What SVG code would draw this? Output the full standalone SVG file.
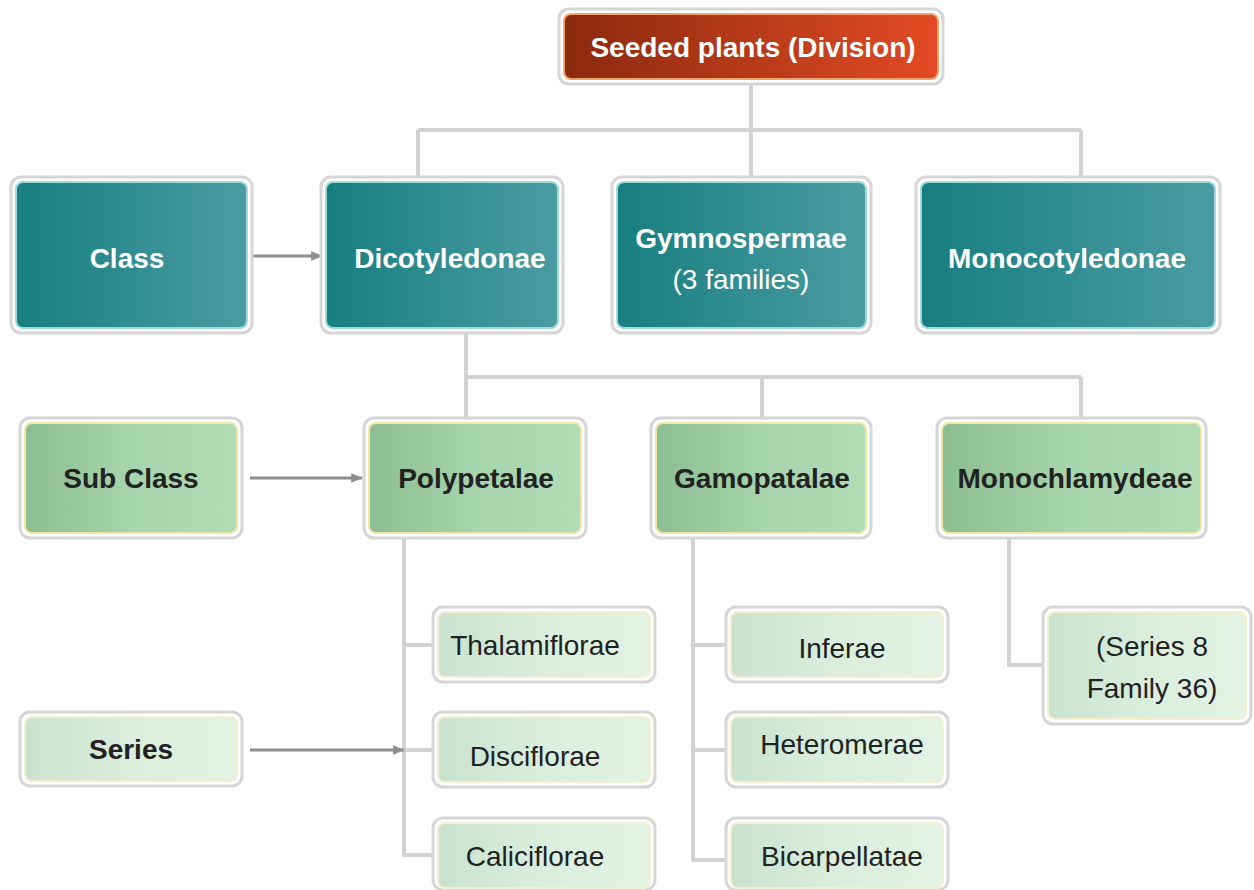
<svg xmlns="http://www.w3.org/2000/svg" width="1254" height="890" viewBox="0 0 1254 890">
<defs>
<linearGradient id="gRed" x1="0" y1="0" x2="1" y2="0"><stop offset="0" stop-color="#8a2a0e"/><stop offset="1" stop-color="#e24a24"/></linearGradient>
<linearGradient id="gTeal" x1="0" y1="0" x2="1" y2="0"><stop offset="0" stop-color="#177e7f"/><stop offset="1" stop-color="#4b9ca3"/></linearGradient>
<linearGradient id="gGreen" x1="0" y1="0" x2="1" y2="0"><stop offset="0" stop-color="#8dbd92"/><stop offset="0.5" stop-color="#a6d4ac"/><stop offset="1" stop-color="#b1dcb6"/></linearGradient>
<linearGradient id="gPale" x1="0" y1="0" x2="1" y2="0"><stop offset="0" stop-color="#c9e2cf"/><stop offset="0.5" stop-color="#dbeedd"/><stop offset="1" stop-color="#e2f2e4"/></linearGradient>
<marker id="arr" viewBox="0 0 10 10" refX="9" refY="5" markerWidth="4" markerHeight="4" orient="auto" markerUnits="strokeWidth"><path d="M0,1 L10,5 L0,9 z" fill="#8e8e8e"/></marker>
</defs>
<style>
.outer{fill:#ffffff;stroke:#d6d6d6;stroke-width:3}
.red{fill:url(#gRed);stroke:#f2a36b;stroke-width:2}
.teal{fill:url(#gTeal);stroke:#9fd9dc;stroke-width:2}
.green{fill:url(#gGreen);stroke:#efe7a8;stroke-width:2}
.pale{fill:url(#gPale);stroke:#f3efcf;stroke-width:2}
.t{font-family:"Liberation Sans Narrow","Liberation Sans",Arial,sans-serif;font-size:28px;text-anchor:middle;dominant-baseline:central}
.w{fill:#ffffff;font-weight:bold}
.wr{fill:#ffffff}
.d{fill:#222222;font-weight:bold}
.dr{fill:#222222}
.line{fill:none;stroke:#d2d2d2;stroke-width:4}
.arrow{fill:none;stroke:#8e8e8e;stroke-width:3;marker-end:url(#arr)}
</style>
<g id="connectors">
<path class="line" d="M751,84 V130 M418,130 H1081 M418,130 V178 M751,130 V178 M1081,130 V178"/>
<path class="line" d="M466,332 V377 M466,377 H1081 M466,377 V418 M762,377 V418 M1081,377 V418"/>
<path class="line" d="M404,538 V855 H433 M404,645 H433 M404,750 H433"/>
<path class="line" d="M693,538 V860 H727 M693,645 H727 M693,750 H727"/>
<path class="line" d="M1009,538 V665 H1043"/>
<path class="arrow" d="M252,256 H322"/>
<path class="arrow" d="M250,478 H362"/>
<path class="arrow" d="M250,750 H404"/>
</g>
<g id="n-seeded"><rect class="outer" x="559" y="9" width="384" height="75" rx="10"/><rect class="red" x="564" y="14" width="374" height="65" rx="7"/><text class="t w" x="753" y="47" font-size="27">Seeded plants (Division)</text></g>
<g id="n-class"><rect class="outer" x="11" y="177" width="241" height="156" rx="10"/><rect class="teal" x="16" y="182" width="231" height="146" rx="7"/><text class="t w" x="127" y="258">Class</text></g>
<g id="n-dicot"><rect class="outer" x="321" y="177" width="242" height="156" rx="10"/><rect class="teal" x="326" y="182" width="232" height="146" rx="7"/><text class="t w" x="450" y="258">Dicotyledonae</text></g>
<g id="n-gymno"><rect class="outer" x="612" y="177" width="259" height="156" rx="10"/><rect class="teal" x="617" y="182" width="249" height="146" rx="7"/><text class="t w" x="741" y="238">Gymnospermae</text><text class="t wr" x="741" y="279">(3 families)</text></g>
<g id="n-mono"><rect class="outer" x="916" y="177" width="304" height="156" rx="10"/><rect class="teal" x="921" y="182" width="294" height="146" rx="7"/><text class="t w" x="1067" y="258">Monocotyledonae</text></g>
<g id="n-subclass"><rect class="outer" x="20" y="418" width="222" height="120" rx="10"/><rect class="green" x="25" y="423" width="212" height="110" rx="7"/><text class="t d" x="131" y="478">Sub Class</text></g>
<g id="n-poly"><rect class="outer" x="364" y="418" width="222" height="120" rx="10"/><rect class="green" x="369" y="423" width="212" height="110" rx="7"/><text class="t d" x="476" y="478">Polypetalae</text></g>
<g id="n-gamo"><rect class="outer" x="651" y="418" width="220" height="120" rx="10"/><rect class="green" x="656" y="423" width="210" height="110" rx="7"/><text class="t d" x="762" y="478">Gamopatalae</text></g>
<g id="n-monochl"><rect class="outer" x="937" y="418" width="269" height="120" rx="10"/><rect class="green" x="942" y="423" width="259" height="110" rx="7"/><text class="t d" x="1075" y="478">Monochlamydeae</text></g>
<g id="n-series"><rect class="outer" x="20" y="712" width="222" height="74" rx="10"/><rect class="pale" x="25" y="717" width="212" height="64" rx="7"/><text class="t d" x="131" y="749">Series</text></g>
<g id="n-thal"><rect class="outer" x="433" y="607" width="222" height="75" rx="10"/><rect class="pale" x="438" y="612" width="212" height="65" rx="7"/><text class="t dr" x="535" y="645">Thalamiflorae</text></g>
<g id="n-disc"><rect class="outer" x="433" y="712" width="222" height="75" rx="10"/><rect class="pale" x="438" y="717" width="212" height="65" rx="7"/><text class="t dr" x="535" y="756">Disciflorae</text></g>
<g id="n-cali"><rect class="outer" x="433" y="818" width="222" height="72" rx="10"/><rect class="pale" x="438" y="823" width="212" height="65" rx="7"/><text class="t dr" x="535" y="856">Caliciflorae</text></g>
<g id="n-infer"><rect class="outer" x="726" y="607" width="222" height="75" rx="10"/><rect class="pale" x="731" y="612" width="212" height="65" rx="7"/><text class="t dr" x="842" y="648">Inferae</text></g>
<g id="n-hetero"><rect class="outer" x="726" y="712" width="222" height="75" rx="10"/><rect class="pale" x="731" y="717" width="212" height="65" rx="7"/><text class="t dr" x="842" y="744">Heteromerae</text></g>
<g id="n-bicarp"><rect class="outer" x="726" y="818" width="222" height="72" rx="10"/><rect class="pale" x="731" y="823" width="212" height="65" rx="7"/><text class="t dr" x="842" y="856">Bicarpellatae</text></g>
<g id="n-ser8"><rect class="outer" x="1043" y="607" width="208" height="117" rx="10"/><rect class="pale" x="1048" y="612" width="198" height="107" rx="7"/><text class="t dr" x="1152" y="646">(Series 8</text><text class="t dr" x="1152" y="688">Family 36)</text></g>
</svg>
